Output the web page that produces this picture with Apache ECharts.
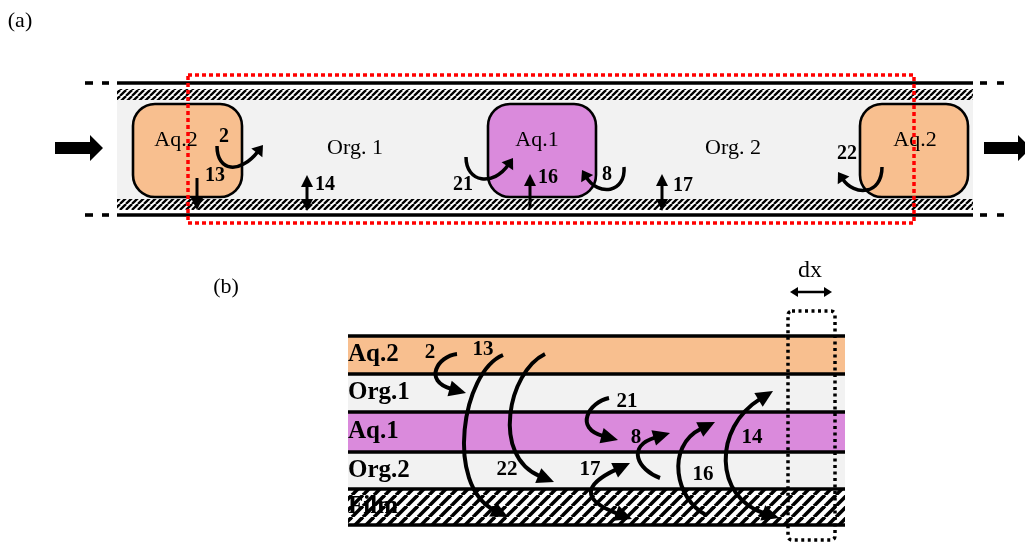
<!DOCTYPE html>
<html><head><meta charset="utf-8">
<script src="https://cdn.jsdelivr.net/npm/echarts@6/dist/echarts.min.js"></script>
<style>html,body{margin:0;padding:0;background:#fff}#c{width:1025px;height:545px}</style>
</head><body><div id="c"></div>
<script>
// ---------- data (diagram coordinates in a 1025 x 545 frame) ----------
const panelLabels = [['(a)', 20, 21], ['(b)', 226, 287]];

// panel (a): tube
const tubeSpan = [117, 973];
const tubeWallY = [83, 215];
const tubeHatchA = [[89, 100], [199, 210]];
const tubeCore = [100, 199];
const tubeDashes = [[85, 93], [102, 109], [980, 987], [997, 1004]];
const flowArrows = [[55, 103, 148], [984, 1031, 148]];

// panel (a): droplets and slugs
const dropletNames = ['Aq.2', 'Aq.1', 'Aq.2'];
const dropletColors = ['#F8BF8F', '#DA8ADC', '#F8BF8F'];
const dropletSpans = [[133, 242], [488, 596], [860, 968]];
const dropletY = [104, 197];
const dropletLabelXY = [[176, 140], [537, 140], [915, 140]];
const slugNames = ['Org. 1', 'Org. 2'];
const slugLabelXY = [[355, 148], [733, 148]];

const reactionLabelsA = [['2', 224, 137], ['13', 215, 176], ['14', 325, 185], ['21', 463, 185],
  ['16', 548, 178], ['8', 607, 175], ['17', 683, 186], ['22', 847, 154]];
const curvedArrowsA = [
  [217, 146, 217, 172, 245, 168, 263, 145, 'end'],
  [466, 157, 466, 183, 498, 180, 513, 158, 'end'],
  [624, 167, 626, 193, 594, 190, 582, 170, 'end'],
  [882, 167, 882, 195, 850, 190, 838, 172, 'end']];
const straightArrowsA = [[197, 178, 197, 210, 'end'], [307, 175, 307, 211, 'both'],
  [530, 208, 530, 174, 'end'], [662, 174, 662, 211, 'both']];
const selectionBox = [188, 75, 914, 223];

// panel (b): layers
const layerNames = ['Aq.2', 'Org.1', 'Aq.1', 'Org.2', 'Film'];
const layerColors = ['#F8BF8F', '#F2F2F2', '#DA8ADC', '#F2F2F2', 'hatch'];
const layerEdges = [336, 374, 412, 452, 489, 525];
const layerSpan = [348, 845];
const reactionLabelsB = [['2', 430, 353], ['13', 483, 350], ['22', 507, 470], ['21', 627, 402],
  ['8', 636, 438], ['17', 590, 470], ['16', 703, 475], ['14', 752, 438]];
const curvedArrowsB = [
  [457, 354, 438, 356, 437, 385, 466, 393, 'end'],
  [503, 355, 462, 372, 458, 492, 508, 517, 'end'],
  [545, 354, 508, 372, 505, 462, 554, 482, 'end'],
  [609, 398, 589, 402, 588, 432, 618, 440, 'end'],
  [660, 478, 638, 470, 640, 442, 670, 433, 'end'],
  [630, 463, 598, 478, 594, 505, 632, 519, 'both'],
  [706, 515, 676, 500, 678, 440, 715, 422, 'end'],
  [773, 391, 726, 420, 728, 502, 779, 518, 'both']];
const dxBox = [788, 311, 835, 540];
const dxArrow = [790, 832, 292];
const dxLabel = ['dx', 810, 271];

// ---------- rendering ----------
const SERIF = '"Liberation Serif","Times New Roman",serif';
function hatchCanvas(s, w) {
  const c = document.createElement('canvas'); c.width = s; c.height = s;
  const g = c.getContext('2d'); g.strokeStyle = '#000'; g.lineWidth = w;
  for (let k = -1; k <= 1; k++) { g.beginPath(); g.moveTo(k * s, s); g.lineTo(k * s + s, 0); g.stroke(); }
  return c;
}
const hatchA = hatchCanvas(6, 2.3);
const hatchB = hatchCanvas(11, 3.6);

function renderAll(params, api) {
  const P = (x, y) => api.coord([x, y]);
  const ch = [];
  const rect = (x0, y0, x1, y1, style, r) => {
    const a = P(x0, y0), b = P(x1, y1);
    ch.push({ type: 'rect', shape: { x: Math.min(a[0], b[0]), y: Math.min(a[1], b[1]),
      width: Math.abs(b[0] - a[0]), height: Math.abs(b[1] - a[1]), r: r || 0 }, style });
  };
  const line = (x0, y0, x1, y1, lw, color) => {
    const a = P(x0, y0), b = P(x1, y1);
    ch.push({ type: 'line', shape: { x1: a[0], y1: a[1], x2: b[0], y2: b[1] },
      style: { stroke: color || '#000', lineWidth: lw, fill: 'none' } });
  };
  const text = (t, x, y, font, align) => {
    const a = P(x, y);
    ch.push({ type: 'text', style: { text: t, x: a[0], y: a[1], font, fill: '#000',
      textAlign: align || 'center', textVerticalAlign: 'middle', align: align || 'center', verticalAlign: 'middle' } });
  };
  const head = (tip, from, L, W) => {
    const dx = tip[0] - from[0], dy = tip[1] - from[1], len = Math.hypot(dx, dy) || 1;
    const ux = dx / len, uy = dy / len, bx = tip[0] - ux * L, by = tip[1] - uy * L;
    ch.push({ type: 'polygon', shape: { points: [tip, [bx - uy * W, by + ux * W], [bx + uy * W, by - ux * W]] },
      style: { fill: '#000', stroke: 'none' } });
    return [bx + ux * 2 - tip[0], by + uy * 2 - tip[1]];
  };
  const curve = (a, lw, L, W) => {
    let p0 = P(a[0], a[1]), c1 = P(a[2], a[3]), c2 = P(a[4], a[5]), p1 = P(a[6], a[7]);
    const d1 = head(p1, c2, L, W);
    p1 = [p1[0] + d1[0], p1[1] + d1[1]]; c2 = [c2[0] + d1[0], c2[1] + d1[1]];
    if (a[8] === 'both') {
      const d0 = head(p0, c1, L, W);
      p0 = [p0[0] + d0[0], p0[1] + d0[1]]; c1 = [c1[0] + d0[0], c1[1] + d0[1]];
    }
    ch.push({ type: 'bezierCurve', shape: { x1: p0[0], y1: p0[1], cpx1: c1[0], cpy1: c1[1],
      cpx2: c2[0], cpy2: c2[1], x2: p1[0], y2: p1[1] }, style: { stroke: '#000', lineWidth: lw, fill: 'none' } });
  };
  const straight = (a, lw, L, W) => {
    const x0 = a[0], y0 = a[1], x1 = a[2], y1 = a[3];
    curve([x0, y0, x0 + (x1 - x0) / 3, y0 + (y1 - y0) / 3, x0 + 2 * (x1 - x0) / 3, y0 + 2 * (y1 - y0) / 3, x1, y1, a[4]], lw, L, W);
  };

  // panel labels
  panelLabels.forEach(l => text(l[0], l[1], l[2], '22px ' + SERIF));

  // ----- panel (a) -----
  rect(tubeSpan[0], tubeCore[0], tubeSpan[1], tubeCore[1], { fill: '#F2F2F2', stroke: 'none' });
  tubeHatchA.forEach(h => rect(tubeSpan[0], h[0], tubeSpan[1], h[1], { fill: { image: hatchA, repeat: 'repeat' }, stroke: 'none' }));
  tubeWallY.forEach(y => {
    line(tubeSpan[0], y, tubeSpan[1], y, 3.6);
    tubeDashes.forEach(d => line(d[0], y, d[1], y, 3.6));
  });
  dropletSpans.forEach((s, i) => {
    rect(s[0], dropletY[0], s[1], dropletY[1], { fill: dropletColors[i], stroke: '#000', lineWidth: 2.6 }, 22);
    text(dropletNames[i], dropletLabelXY[i][0], dropletLabelXY[i][1], '22px ' + SERIF);
  });
  slugNames.forEach((n, i) => text(n, slugLabelXY[i][0], slugLabelXY[i][1], '22px ' + SERIF));
  reactionLabelsA.forEach(l => text(l[0], l[1], l[2], 'bold 20px ' + SERIF));
  curvedArrowsA.forEach(a => curve(a, 3.5, 10, 7));
  straightArrowsA.forEach(a => straight(a, 3, 12, 6));
  flowArrows.forEach(f => {
    const x0 = f[0], x1 = f[1], y = f[2], hb = x1 - 13;
    ch.push({ type: 'polygon', shape: { points: [P(x0, y - 6), P(hb, y - 6), P(hb, y - 13), P(x1, y), P(hb, y + 13), P(hb, y + 6), P(x0, y + 6)] },
      style: { fill: '#000', stroke: 'none' } });
  });
  {
    const a = P(selectionBox[0], selectionBox[1]), b = P(selectionBox[2], selectionBox[3]);
    ch.push({ type: 'rect', shape: { x: a[0], y: a[1], width: b[0] - a[0], height: b[1] - a[1] },
      style: { fill: 'none', stroke: '#FF0000', lineWidth: 3.5, lineDash: [4, 3] } });
  }

  // ----- panel (b) -----
  layerNames.forEach((n, i) => {
    const y0 = layerEdges[i], y1 = layerEdges[i + 1], yc = (y0 + y1) / 2;
    if (layerColors[i] === 'hatch') {
      rect(layerSpan[0], y0, layerSpan[1], y1, { fill: '#fff', stroke: 'none' });
      text(n, layerSpan[0], yc, 'bold 25px ' + SERIF, 'left');
      rect(layerSpan[0], y0, layerSpan[1], y1, { fill: { image: hatchB, repeat: 'repeat' }, stroke: 'none' });
    } else {
      rect(layerSpan[0], y0, layerSpan[1], y1, { fill: layerColors[i], stroke: 'none' });
      text(n, layerSpan[0], yc, 'bold 25px ' + SERIF, 'left');
    }
  });
  layerEdges.forEach(y => line(layerSpan[0], y, layerSpan[1], y, 3.6));
  reactionLabelsB.forEach(l => text(l[0], l[1], l[2], 'bold 21px ' + SERIF));
  curvedArrowsB.forEach(a => curve(a, 4, 17, 8));
  {
    const a = P(dxBox[0], dxBox[1]), b = P(dxBox[2], dxBox[3]);
    ch.push({ type: 'rect', shape: { x: a[0], y: a[1], width: b[0] - a[0], height: b[1] - a[1], r: 4 },
      style: { fill: 'none', stroke: '#000', lineWidth: 3.5, lineDash: [3, 3.5] } });
  }
  straight([dxArrow[0], dxArrow[2], dxArrow[1], dxArrow[2], 'both'], 2.5, 8, 5);
  text(dxLabel[0], dxLabel[1], dxLabel[2], '24px ' + SERIF);

  return { type: 'group', children: ch };
}

const chart = echarts.init(document.getElementById('c'), null, { renderer: 'canvas' });
chart.setOption({
  animation: false,
  grid: { left: 0, right: 0, top: 0, bottom: 0 },
  xAxis: { type: 'value', min: 0, max: 1025, show: false },
  yAxis: { type: 'value', min: 0, max: 545, inverse: true, show: false },
  series: [{ type: 'custom', coordinateSystem: 'cartesian2d', clip: false, data: [[0, 0]], renderItem: renderAll }]
});
</script></body></html>
